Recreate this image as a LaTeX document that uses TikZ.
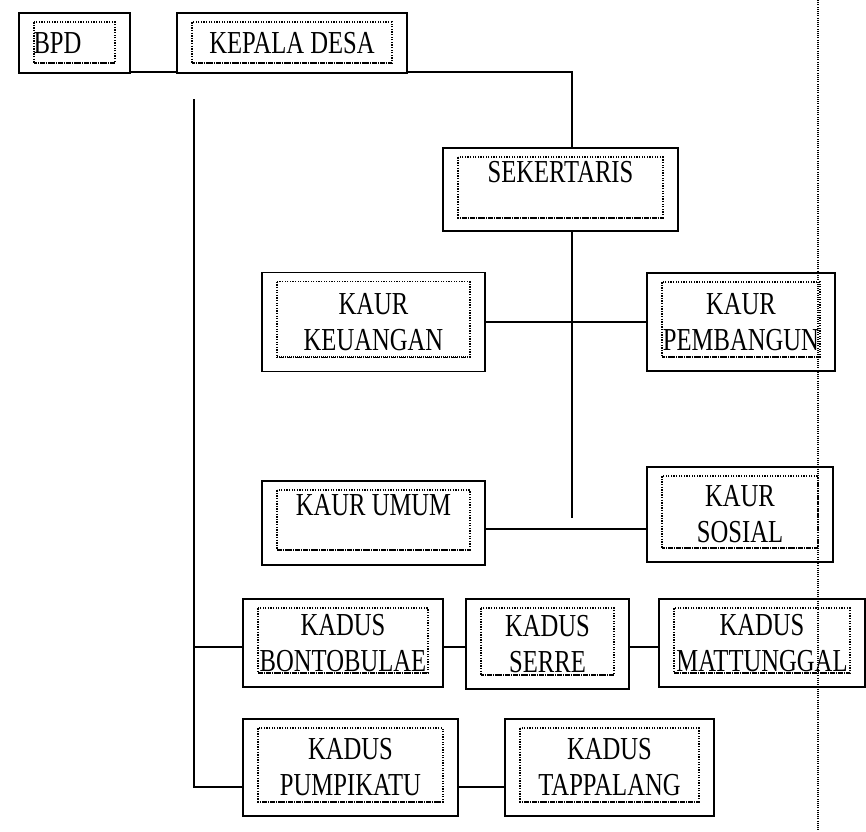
\documentclass[tikz,border=0pt]{standalone}
\usepackage{fontspec}
\setmainfont{Liberation Serif}[FakeStretch=0.77]
\begin{document}
\begin{tikzpicture}[x=1pt,y=-1pt]
		        \tikzstyle{unit}=[draw=black,line width=1.6pt,align=center,inner sep=0pt,font=\fontsize{32}{36}\selectfont]
		        \tikzstyle{edge}=[draw,line width=1.6pt]
		        \tikzstyle{inner}=[draw=black,line width=1.5pt,dash pattern=on 1.3pt off 1.3pt]
		        \useasboundingbox (0,0) rectangle (866,831);
		       \begin{scope}
			        \node [unit,minimum width=111pt,minimum height=60pt] (bpd) at (74.5,43) {BPD\hspace{34pt}};
			        \node [unit,minimum width=230pt,minimum height=60pt] (kades) at (292,43) {KEPALA DESA};
			        \node [unit,minimum width=235pt,minimum height=83pt] (sekre) at (560.5,189.5) {SEKERTARIS\\~};
			        \node [unit,minimum width=223pt,minimum height=99pt] (keuangan) at (373.5,322) {KAUR\\KEUANGAN};
			        \node [unit,minimum width=188pt,minimum height=98pt] (pembangun) at (741,322) {KAUR\\PEMBANGUN};
			        \node [unit,minimum width=223pt,minimum height=84pt] (umum) at (373.5,523) {KAUR UMUM\\~};
			        \node [unit,minimum width=186pt,minimum height=95pt] (sosial) at (740,514.5) {KAUR\\SOSIAL};
			        \node [unit,minimum width=200pt,minimum height=88pt] (bontobulae) at (343,643) {KADUS\\BONTOBULAE};
			        \node [unit,minimum width=163pt,minimum height=90pt] (serre) at (547.5,644) {KADUS\\SERRE};
			        \node [unit,minimum width=206pt,minimum height=88pt] (mattunggal) at (762,643) {KADUS\\MATTUNGGAL};
			        \node [unit,minimum width=215pt,minimum height=97pt] (pumpikatu) at (350.5,767.5) {KADUS\\PUMPIKATU};
			        \node [unit,minimum width=209pt,minimum height=97pt] (tappalang) at (609.5,767.5) {KADUS\\TAPPALANG};
			        % dotted frames inside the boxes
			        \foreach \n/\b in {bpd/11,kades/11,sekre/14,keuangan/15,pembangun/15,umum/16,sosial/15,bontobulae/15,serre/15,mattunggal/15,pumpikatu/15,tappalang/15}{
			        	\draw [inner] ([shift={(16pt,-10pt)}]\n.north west) rectangle ([shift={(-16pt,\b pt)}]\n.south east);
			        	\draw [inner,line width=2.2pt,dash pattern=on 1pt off 1pt] ([shift={(16pt,\b pt)}]\n.south west) -- ([shift={(-16pt,\b pt)}]\n.south east);
			        }
			        \coordinate (trunk) at (194,99);
			        \coordinate (sekreend) at (572,518);
			        \coordinate (septop) at (818,0);
			        \coordinate (sepbottom) at (818,831);
			        \path[edge] ([yshift=2pt]bpd.south east) -- ([yshift=2pt]kades.south west);
			        \path[edge] ([yshift=2pt]kades.south east) -| ([xshift=11.5pt]sekre.north);
			        \path[edge] ([xshift=11.5pt]sekre.south) -- (sekreend);
			        \path[edge] (keuangan) -- (pembangun);
			        \path[edge] ([yshift=-6pt]umum.east) -- ([yshift=-6pt]umum.east -| sosial.west);
			        \path[edge] (trunk) |- ([yshift=-19.5pt]pumpikatu.west);
			        \path[edge] (trunk |- bontobulae.west) ++(0,4) -- ([yshift=-4pt]bontobulae.west);
			        \path[edge] ([yshift=-4pt]bontobulae.east) -- ([yshift=-4pt]bontobulae.east -| serre.west);
			        \path[edge] ([yshift=-4pt]bontobulae.east -| serre.east) -- ([yshift=-4pt]bontobulae.east -| mattunggal.west);
			        \path[edge] ([yshift=-19.5pt]pumpikatu.east) -- ([yshift=-19.5pt]pumpikatu.east -| tappalang.west);
			        \draw [line width=1.3pt,dash pattern=on 1pt off 1.2pt] (septop) -- (sepbottom);
       			 \end{scope}
      		\end{tikzpicture}
\end{document}
